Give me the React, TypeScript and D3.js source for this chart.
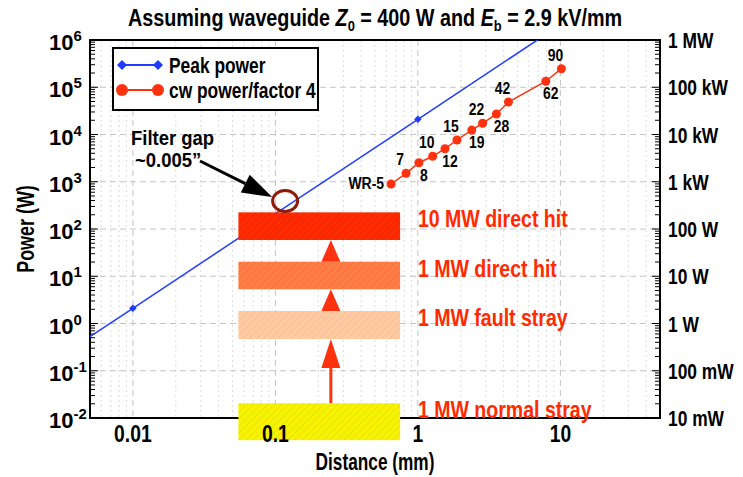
import React from "react";
import * as d3 from "d3";

// waveguide narrow dimension b (mm) and cw power / 4 (W)
const cwDistance = [0.648, 0.826, 1.016, 1.27, 1.549, 1.88, 2.388, 2.845, 3.556, 4.318, 7.899, 10.16];
const cwPower = [896, 1510, 2530, 3460, 5000, 7650, 12400, 17300, 27200, 48700, 134000, 247000];
const cwLabels = ["WR-5", "7", "8", "10", "12", "15", "19", "22", "28", "42", "62", "90"];

const peakDistance = [0.001, 0.01, 1, 100];
const peakPower = [0.021, 2.1, 21000, 2.1e8];

const barLabels = ["10 MW direct hit", "1 MW direct hit", "1 MW fault stray", "1 MW normal stray"];
const barLow = [58.5, 5.3, 0.47, 0.0034];
const barHigh = [225, 20.3, 1.84, 0.0205];
const barFill = ["#ff2a00", "#ff7c45", "#ffcaa2", "#f6f200"];
const barHatch = ["#d82200", "#e8683a", "#ecb48e", "#d8d000"];
const barSpan = [0.055, 0.75];
const arrowDistance = 0.245;

const gapDistance = 0.117;
const gapPower = 392;

const yTickExp = [6, 5, 4, 3, 2, 1, 0, -1, -2];
const rightLabels = ["1 MW", "100 kW", "10 kW", "1 kW", "100 W", "10 W", "1 W", "100 mW", "10 mW"];
const xTicks = [0.01, 0.1, 1, 10];
const xTickLabels = ["0.01", "0.1", "1", "10"];

const W = 743;
const H = 477;
const m = { left: 90, right: 660, top: 40, bottom: 418 };
const FONT = "'Liberation Sans', Arial, sans-serif";
const BLUE = "#1f3cff";
const RED = "#ff3210";

// text squeezed horizontally to mimic a narrow face
function T({ x, y, size, sx = 0.82, anchor = "start", fill = "#000", children }: any) {
  return (
    <text
      transform={`translate(${x},${y}) scale(${sx},1)`}
      textAnchor={anchor}
      fontSize={size}
      fill={fill}
    >
      {children}
    </text>
  );
}

export default function App() {
  const x = d3.scaleLog().domain([0.005, 50]).range([m.left, m.right]);
  const y = d3.scaleLog().domain([0.01, 1e6]).range([m.bottom, m.top]);

  const minorX: { v: number; major: boolean }[] = [];
  for (let e = -3; e <= 2; e++)
    for (let k = 1; k <= 9; k++) {
      const v = k * Math.pow(10, e);
      if (v > 0.005 && v < 50) minorX.push({ v, major: k === 1 });
    }
  const minorY: { v: number; major: boolean }[] = [];
  for (let e = -2; e <= 6; e++)
    for (let k = 1; k <= 9; k++) {
      const v = k * Math.pow(10, e);
      if (v >= 0.01 && v <= 1e6) minorY.push({ v, major: k === 1 });
    }

  const peakPath = d3
    .line<number>()
    .x((d) => x(d))
    .y((d, i) => y(peakPower[i]))(peakDistance);
  const cwPath = d3
    .line<number>()
    .x((d) => x(d))
    .y((d, i) => y(cwPower[i]))(cwDistance);

  const labelPos = (i: number) => {
    if (i === 0) return { dx: -7, dy: 5, anchor: "end" };
    if (i % 2 === 1) return { dx: -6, dy: -8, anchor: "middle" };
    return { dx: 5, dy: 18, anchor: "middle" };
  };

  const ax = x(arrowDistance);
  const arrows = [0, 1, 2].map((i) => {
    const tip = y(barLow[i]);
    const base = y(barHigh[i + 1]);
    const headLen = Math.min(29, base - tip);
    return { tip, base, headLen };
  });

  const gx = x(gapDistance);
  const gy = y(gapPower);
  const diamond = "M0,-3.8 L3.8,0 L0,3.8 L-3.8,0 Z";

  const arrowHead = (() => {
    const tx = gx - 13;
    const ty = gy - 4;
    const ang = Math.atan2(ty - 161, tx - 200);
    const len = 30;
    const hw = 10;
    const bx = tx - len * Math.cos(ang);
    const by = ty - len * Math.sin(ang);
    const px = -Math.sin(ang) * hw;
    const py = Math.cos(ang) * hw;
    return { d: `M${tx},${ty} L${bx + px},${by + py} L${bx - px},${by - py} Z`, bx, by };
  })();

  return (
    <svg
      width={W}
      height={H}
      style={{ position: "absolute", left: 0, top: 0, background: "#fff" }}
      fontFamily={FONT}
      fontWeight="bold"
    >
      <defs>
        <clipPath id="plot">
          <rect x={m.left} y={m.top} width={m.right - m.left} height={m.bottom - m.top} />
        </clipPath>
        {barFill.map((c, i) => (
          <pattern key={i} id={`hatch${i}`} width={7} height={7} patternUnits="userSpaceOnUse">
            <rect width={7} height={7} fill={c} />
            <path d="M-1,1 l2,-2 M0,7 l7,-7 M6,8 l2,-2" stroke={barHatch[i]} strokeWidth={0.6} />
          </pattern>
        ))}
      </defs>

      {/* grid */}
      <g>
        {minorX.map((t, i) => (
          <line
            key={i}
            x1={x(t.v)}
            x2={x(t.v)}
            y1={m.top}
            y2={m.bottom}
            stroke={t.major ? "#c4c4c4" : "#d4d4d4"}
            strokeWidth={t.major ? 1 : 0.8}
            strokeDasharray={t.major ? "6,4" : "2,3"}
          />
        ))}
        {yTickExp.map((e) => (
          <line
            key={e}
            x1={m.left}
            x2={m.right}
            y1={y(Math.pow(10, e))}
            y2={y(Math.pow(10, e))}
            stroke="#c4c4c4"
            strokeDasharray="6,4"
          />
        ))}
      </g>

      {/* frame and y ticks */}
      <rect
        x={m.left}
        y={m.top}
        width={m.right - m.left}
        height={m.bottom - m.top}
        fill="none"
        stroke="#000"
        strokeWidth={2}
      />
      {minorY.map((t, i) => (
        <g key={i}>
          <line x1={m.left} x2={m.left + (t.major ? 8 : 5)} y1={y(t.v)} y2={y(t.v)} stroke="#000" strokeWidth={1} />
          <line x1={m.right} x2={m.right - (t.major ? 8 : 5)} y1={y(t.v)} y2={y(t.v)} stroke="#000" strokeWidth={1} />
        </g>
      ))}

      {/* peak power */}
      <g clipPath="url(#plot)">
        <path d={peakPath || ""} fill="none" stroke={BLUE} strokeWidth={1.5} />
        {peakDistance.map((d, i) => (
          <path key={i} d={diamond} transform={`translate(${x(d)},${y(peakPower[i])})`} fill={BLUE} />
        ))}
      </g>

      {/* cw power */}
      <path d={cwPath || ""} fill="none" stroke={RED} strokeWidth={1.5} />
      {cwDistance.map((d, i) => (
        <circle key={i} cx={x(d)} cy={y(cwPower[i])} r={4.5} fill={RED} />
      ))}
      {cwLabels.map((l, i) => {
        const p = labelPos(i);
        return (
          <T key={l} x={x(cwDistance[i]) + p.dx} y={y(cwPower[i]) + p.dy} anchor={p.anchor} size={17} sx={0.82}>
            {l}
          </T>
        );
      })}

      {/* threshold arrows */}
      {arrows.map((a, i) => (
        <g key={i} fill={RED} stroke="none">
          {a.base - a.tip > a.headLen + 1 && (
            <line x1={ax} x2={ax} y1={a.base} y2={a.tip + a.headLen} stroke={RED} strokeWidth={3} />
          )}
          <path d={`M${ax},${a.tip} L${ax - 9.5},${a.tip + a.headLen} L${ax + 9.5},${a.tip + a.headLen} Z`} />
        </g>
      ))}

      {/* bars */}
      {barLabels.map((l, i) => (
        <g key={l}>
          <rect
            x={x(barSpan[0])}
            y={y(barHigh[i])}
            width={x(barSpan[1]) - x(barSpan[0])}
            height={y(barLow[i]) - y(barHigh[i])}
            fill={`url(#hatch${i})`}
          />
          <T x={x(1)} y={y(barHigh[i]) + 15} size={23} sx={0.85} fill="#ff2a00">
            {l}
          </T>
        </g>
      ))}

      {/* filter gap annotation */}
      <ellipse cx={gx} cy={gy} rx={12.5} ry={10.5} fill="none" stroke="#8e1a08" strokeWidth={3} />
      <T x={131} y={145} size={21} sx={0.88}>
        Filter gap
      </T>
      <T x={135} y={167} size={21} sx={0.88}>
        ~0.005”
      </T>
      <line x1={200} y1={161} x2={arrowHead.bx} y2={arrowHead.by} stroke="#000" strokeWidth={3} />
      <path d={arrowHead.d} fill="#000" />

      {/* legend */}
      <rect x={113} y={48} width={205} height={62} fill="#fff" stroke="#000" strokeWidth={2} />
      <line x1={122} x2={158} y1={65} y2={65} stroke={BLUE} strokeWidth={2} />
      {[122, 158].map((lx) => (
        <path key={lx} d="M0,-5 L5,0 L0,5 L-5,0 Z" transform={`translate(${lx},65)`} fill={BLUE} />
      ))}
      <T x={169} y={73} size={22} sx={0.79}>
        Peak power
      </T>
      <line x1={122} x2={158} y1={90} y2={90} stroke={RED} strokeWidth={2} />
      {[122, 158].map((lx) => (
        <circle key={lx} cx={lx} cy={90} r={6} fill={RED} />
      ))}
      <T x={169} y={98} size={22} sx={0.79}>
        cw power/factor 4
      </T>

      {/* axis labels */}
      {yTickExp.map((e) => (
        <text key={e} x={49} y={y(Math.pow(10, e)) + 10} fontSize={22}>
          <tspan>10</tspan>
          <tspan dy={-9} fontSize={15}>
            {e}
          </tspan>
        </text>
      ))}
      {rightLabels.map((l, i) => (
        <T key={l} x={668} y={y(Math.pow(10, yTickExp[i])) + 8} size={22} sx={0.79}>
          {l}
        </T>
      ))}
      {xTicks.map((t, i) => (
        <T key={t} x={x(t)} y={442} anchor="middle" size={23} sx={0.84}>
          {xTickLabels[i]}
        </T>
      ))}
      <T x={(m.left + m.right) / 2} y={470} anchor="middle" size={23} sx={0.75}>
        Distance (mm)
      </T>
      <text
        transform={`translate(34,${(m.top + m.bottom) / 2}) rotate(-90) scale(0.78,1)`}
        textAnchor="middle"
        fontSize={23}
      >
        Power (W)
      </text>
      <T x={(m.left + m.right) / 2} y={26} anchor="middle" size={23} sx={0.86}>
        Assuming waveguide <tspan fontStyle="italic">Z</tspan>
        <tspan fontSize={15} dy={5}>
          0
        </tspan>
        <tspan dy={-5}> = 400 W and </tspan>
        <tspan fontStyle="italic">E</tspan>
        <tspan fontSize={15} dy={5}>
          b
        </tspan>
        <tspan dy={-5}> = 2.9 kV/mm</tspan>
      </T>
    </svg>
  );
}
